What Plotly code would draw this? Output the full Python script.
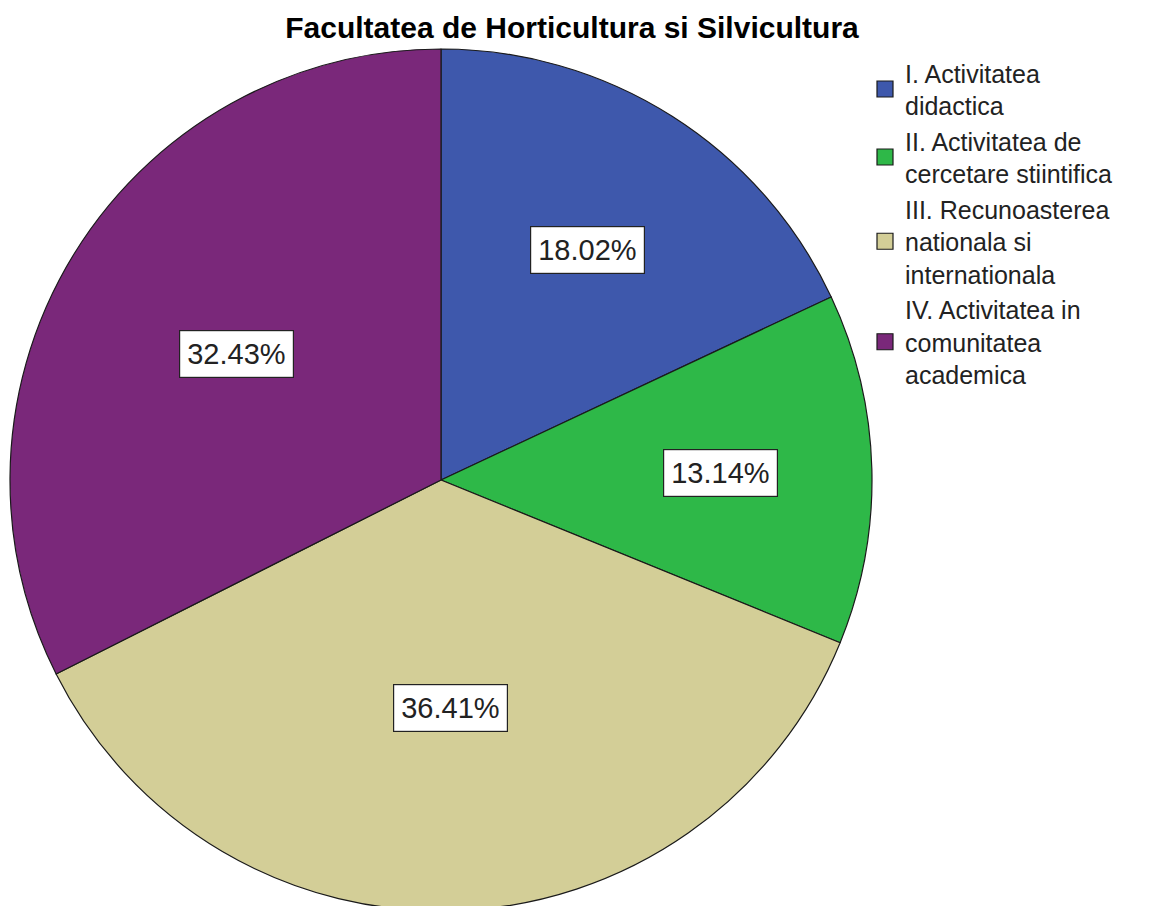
import math
import plotly.graph_objects as go

title = "Facultatea de Horticultura si Silvicultura"
categories = [
    "I. Activitatea<br>didactica",
    "II. Activitatea de<br>cercetare stiintifica",
    "III. Recunoasterea<br>nationala si<br>internationala",
    "IV. Activitatea in<br>comunitatea<br>academica",
]
values = [18.02, 13.14, 36.41, 32.43]
colors = ["#3E58AC", "#2EB848", "#D3CE97", "#7A287A"]

W, H = 1152, 906
OFF = 8  # page body margin in the browser
cx, cy, r = 441 - OFF, 480 - OFF, 431
dom_x = [(cx - r) / W, (cx + r) / W]
dom_y = [1 - (cy + r) / H, 1 - (cy - r) / H]

fig = go.Figure()
fig.add_trace(go.Pie(
    labels=categories,
    values=values,
    sort=False,
    direction="clockwise",
    rotation=0,
    marker=dict(colors=colors, line=dict(color="#1a1a1a", width=1.2)),
    textinfo="none",
    hoverinfo="label+percent",
    domain=dict(x=dom_x, y=dom_y),
    showlegend=False,
))

# legend entries (square swatches)
for lab, col in zip(categories, colors):
    fig.add_trace(go.Scatter(
        x=[None], y=[None], mode="markers", name=lab,
        marker=dict(symbol="square", size=16, color=col, line=dict(color="#1a1a1a", width=1.2)),
        showlegend=True, hoverinfo="skip",
    ))

# percentage labels in boxes, positioned at slice centroids
total = sum(values)
cum = 0.0
for v in values:
    theta = v / total * 2 * math.pi
    mid = cum / total * 2 * math.pi + theta / 2
    cum += v
    a = theta / 2
    frac = 2 * math.sin(a) / (3 * a)
    px = cx + frac * r * math.sin(mid)
    py = cy - frac * r * math.cos(mid)
    fig.add_annotation(
        x=px / W, y=1 - py / H, xref="paper", yref="paper",
        xanchor="center", yanchor="middle",
        text=f"{v / total * 100:.2f}%", showarrow=False,
        font=dict(family="Liberation Sans, Arial", size=29, color="#222"),
        bgcolor="white", bordercolor="#222", borderwidth=1.2, borderpad=7,
    )

fig.update_layout(
    width=W, height=H,
    margin=dict(l=0, r=0, t=0, b=0),
    paper_bgcolor="white",
    plot_bgcolor="white",
    xaxis=dict(visible=False),
    yaxis=dict(visible=False),
    title=dict(text=f"<b>{title}</b>", x=(572 - OFF) / W, y=1 - (27 - OFF) / H,
               xanchor="center", yanchor="middle",
               font=dict(family="Liberation Sans, Arial", size=30, color="black")),
    showlegend=True,
    legend=dict(x=(865 - OFF) / W, y=1 - (50 - OFF) / H, xanchor="left", yanchor="top",
                font=dict(family="Liberation Sans, Arial", size=25, color="#222"),
                tracegroupgap=0, itemwidth=30,
                bgcolor="rgba(0,0,0,0)"),
)

fig.write_html("out.html")
